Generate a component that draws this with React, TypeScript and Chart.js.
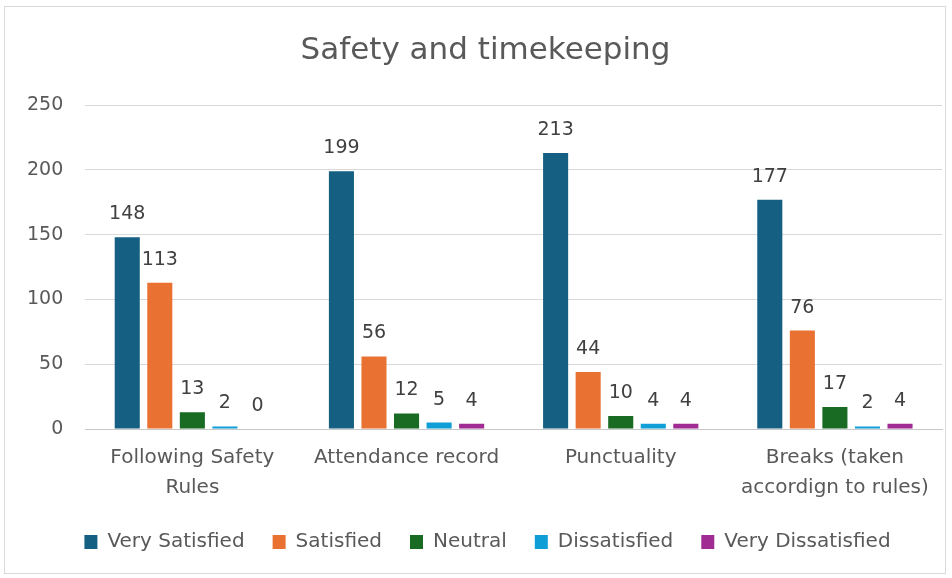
import React, { useEffect, useRef } from "react";
import { Chart, registerables } from "chart.js";

Chart.register(...registerables);

const categories: (string | string[])[] = [
  ["Following Safety", "Rules"],
  "Attendance record",
  "Punctuality",
  ["Breaks (taken", "accordign to rules)"],
];
const seriesNames = ["Very Satisfied", "Satisfied", "Neutral", "Dissatisfied", "Very Dissatisfied"];
const verySatisfied = [148, 199, 213, 177];
const satisfied = [113, 56, 44, 76];
const neutral = [13, 12, 10, 17];
const dissatisfied = [2, 5, 4, 2];
const veryDissatisfied = [0, 4, 4, 4];
const colors = ["#156082", "#E97132", "#196B24", "#0F9ED5", "#A02B93"];
const yTicks = [0, 50, 100, 150, 200, 250];

const FONT = "'DejaVu Sans', sans-serif";

const valueLabels = {
  id: "valueLabels",
  afterDatasetsDraw(chart: any) {
    const ctx = chart.ctx;
    ctx.save();
    ctx.font = `19px ${FONT}`;
    ctx.fillStyle = "#404040";
    ctx.textAlign = "center";
    ctx.textBaseline = "alphabetic";
    chart.data.datasets.forEach((ds: any, i: number) => {
      const meta = chart.getDatasetMeta(i);
      meta.data.forEach((bar: any, j: number) => {
        ctx.fillText(String(ds.data[j]), bar.x, bar.y - 18);
      });
    });
    ctx.restore();
  },
};

function shiftBox(box: any, dx: number) {
  if (!box) return;
  const orig = box.draw.bind(box);
  box.draw = (...args: any[]) => {
    const ctx = box.ctx;
    ctx.save();
    ctx.translate(dx, 0);
    orig(...args);
    ctx.restore();
  };
}

export default function App() {
  const ref = useRef<HTMLCanvasElement>(null);
  useEffect(() => {
    const all = [verySatisfied, satisfied, neutral, dissatisfied, veryDissatisfied];
    const chart = new Chart(ref.current!, {
      type: "bar",
      data: {
        labels: categories,
        datasets: all.map((d, i) => ({
          label: seriesNames[i],
          data: d,
          backgroundColor: colors[i],
          categoryPercentage: 0.76,
          barPercentage: 0.77,
        })),
      },
      options: {
        animation: false,
        responsive: false,
        layout: { padding: { left: 0, right: 3, top: 4, bottom: 11 } },
        plugins: {
          title: {
            display: true,
            text: "Safety and timekeeping",
            color: "#595959",
            font: { family: FONT, size: 31, weight: "normal" },
            padding: { top: 21, bottom: 36 },
          },
          legend: {
            position: "bottom",
            labels: {
              color: "#595959",
              font: { family: FONT, size: 20 },
              boxWidth: 13,
              boxHeight: 14,
              padding: 28,
            },
          },
          tooltip: { enabled: false },
        },
        scales: {
          x: {
            grid: { display: false, drawTicks: false },
            border: { color: "#c8c8c8" },
            ticks: {
              color: "#595959",
              font: { family: FONT, size: 20, lineHeight: 1.5 },
              padding: 14,
              maxRotation: 0,
            },
            afterFit: (axis: any) => {
              axis.height = 75;
            },
          },
          y: {
            min: 0,
            max: 250,
            afterBuildTicks: (axis: any) => {
              axis.ticks = yTicks.map((v) => ({ value: v }));
            },
            grid: { color: "#d9d9d9", drawTicks: false },
            border: { display: false },
            ticks: { color: "#595959", font: { family: FONT, size: 19 }, padding: 22 },
          },
        },
      },
      plugins: [valueLabels],
    });
    const anyChart = chart as any;
    shiftBox(anyChart.legend, 14);
    shiftBox(anyChart.titleBlock, 12);
    chart.draw();
    return () => chart.destroy();
  }, []);
  return (
    <div style={{ position: "fixed", left: 0, top: 0, width: 952, height: 578, background: "#fff" }}>
      <div style={{ position: "absolute", left: 4, top: 6, width: 940, height: 566, border: "1px solid #d9d9d9" }}>
        <canvas ref={ref} width={940} height={566} />
      </div>
    </div>
  );
}
